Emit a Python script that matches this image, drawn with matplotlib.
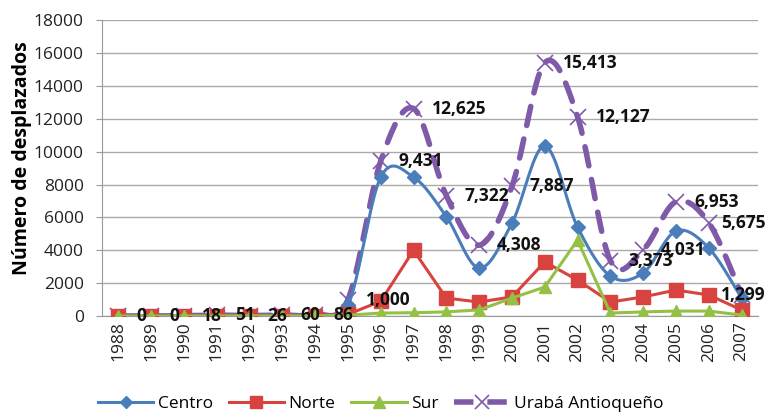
import matplotlib.pyplot as plt
import numpy as np

years = [str(y) for y in range(1988, 2008)]
centro = [0, 0, 0, 10, 30, 15, 40, 650, 8450, 8450, 6050, 2920, 5650, 10340, 5410, 2430, 2620, 5170, 4140, 1090]
norte = [0, 0, 0, 5, 10, 5, 10, 100, 900, 4000, 1090, 850, 1160, 3290, 2190, 850, 1160, 1580, 1280, 370]
sur = [0, 0, 0, 3, 10, 5, 10, 50, 180, 200, 250, 370, 1090, 1760, 4620, 180, 250, 300, 300, 60]
uraba = [0, 0, 18, 51, 26, 60, 86, 1000, 9431, 12625, 7322, 4308, 7887, 15413, 12127, 3373, 4031, 6953, 5675, 1299]


def smooth(x, y, n=20):
    # Catmull-Rom curve through the points, like Excel's smoothed line
    x = np.asarray(x, float)
    y = np.asarray(y, float)
    px = np.concatenate([[x[0]], x, [x[-1]]])
    py = np.concatenate([[y[0]], y, [y[-1]]])
    xs, ys = [], []
    t = np.linspace(0, 1, n)
    for i in range(1, len(px) - 2):
        p0, p1, p2, p3 = [np.array([px[j], py[j]]) for j in (i - 1, i, i + 1, i + 2)]
        c1 = p1 + (p2 - p0) / 6
        c2 = p2 - (p3 - p1) / 6
        pts = (np.outer((1 - t) ** 3, p1) + np.outer(3 * (1 - t) ** 2 * t, c1)
               + np.outer(3 * (1 - t) * t ** 2, c2) + np.outer(t ** 3, p2))
        xs.extend(pts[:, 0])
        ys.extend(pts[:, 1])
    return xs, ys


plt.rcParams['font.family'] = ['Open Sans', 'DejaVu Sans']

fig = plt.figure(figsize=(7.69, 4.12), dpi=100)
ax = fig.add_axes([0.1326, 0.233, 0.853, 0.718])

x = np.arange(len(years))
c_blue = '#4a7ebb'
c_red = '#d9433f'
c_green = '#94c045'
c_purple = '#7f5aa8'

# Urabá - smoothed dashed purple
sx, sy = smooth(x, uraba)
ax.plot(sx, sy, color=c_purple, lw=4, ls=(0, (3.5, 2.5)), dash_capstyle='round', zorder=2)
ax.plot(x, uraba, ls='none', marker='x', ms=12, mew=1.2, color=c_purple, zorder=2)

# Centro - smoothed blue
sx, sy = smooth(x, centro)
ax.plot(sx, sy, color=c_blue, lw=2.2, zorder=3)
ax.plot(x, centro, ls='none', marker='D', ms=7, color=c_blue, zorder=3)

ax.plot(x, norte, color=c_red, lw=2.2, marker='s', ms=10, zorder=3)
ax.plot(x, sur, color=c_green, lw=2.2, marker='^', ms=9, zorder=3)

# data labels (Urabá values), right of each point; the last two are pulled in
for xi, v in zip(x, uraba):
    dx = 0.55
    if xi == len(x) - 2:
        dx = 0.38
    elif xi == len(x) - 1:
        dx = -0.62
    ax.text(xi + dx, v, f'{v:,}', ha='left', va='center', fontsize=12.5,
            fontweight='bold', color='#111111', zorder=5)

# legend handles
h1, = ax.plot([], [], color=c_blue, lw=2.2, marker='D', ms=6)
h2, = ax.plot([], [], color=c_red, lw=2.2, marker='s', ms=9)
h3, = ax.plot([], [], color=c_green, lw=2.2, marker='^', ms=9)
h4, = ax.plot([], [], color=c_purple, lw=4, ls=(0, (3.5, 2.5)), marker='x', ms=10, mew=1.2)
fig.legend([h1, h2, h3, h4], ['Centro', 'Norte', 'Sur', 'Urabá Antioqueño'],
           loc='center', bbox_to_anchor=(0.495, 0.02), ncol=4, frameon=False,
           fontsize=12.5, handlelength=3.2, columnspacing=0.9, handletextpad=0.25,
           borderaxespad=0, borderpad=0)

ax.set_xlim(-0.5, len(years) - 0.5)
ax.set_ylim(0, 18000)
ax.set_yticks(range(0, 18001, 2000))
ax.set_xticks(x)
ax.set_xticklabels(years, rotation=90, fontsize=12.5, color='#222222')
ax.tick_params(axis='y', labelsize=12.5, labelcolor='#222222', length=4, color='#999999', pad=9)
ax.tick_params(axis='x', length=0, pad=4)
ax.grid(axis='y', color='#aaaaaa', lw=1)
ax.set_axisbelow(True)
for s in ('top', 'right'):
    ax.spines[s].set_visible(False)
for s in ('left', 'bottom'):
    ax.spines[s].set_color('#999999')

ax.set_ylabel('Número de desplazados', fontsize=14, fontweight='bold')
ax.yaxis.set_label_coords(-0.107, 0.534)

fig.savefig('out.png', dpi=100)
